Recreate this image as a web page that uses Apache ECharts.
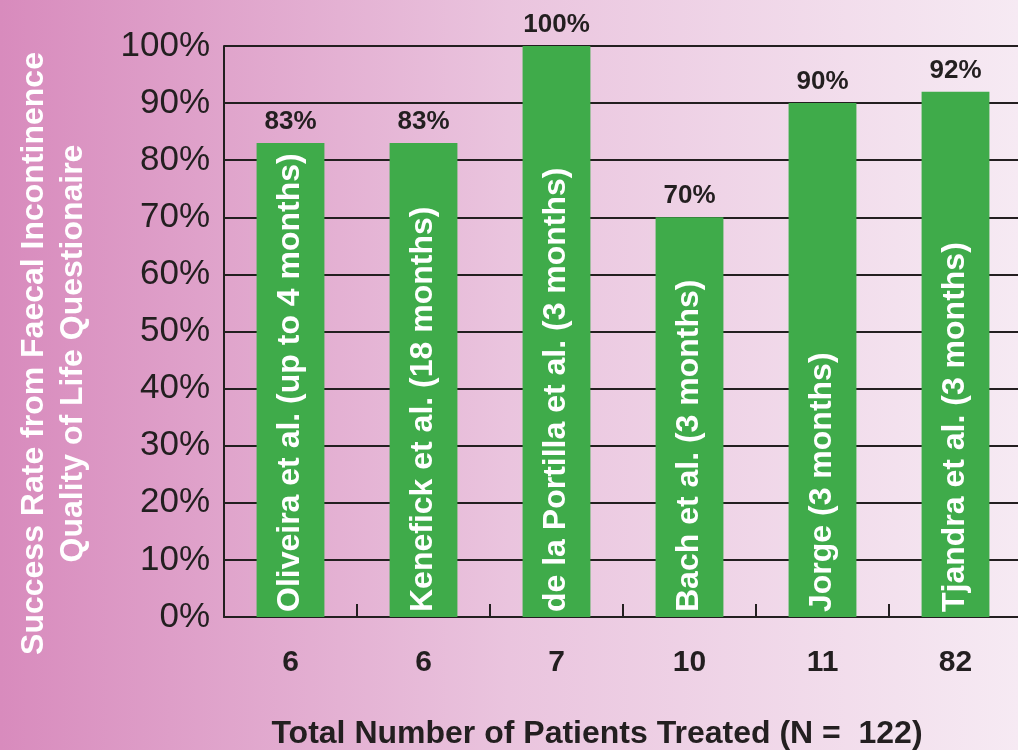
<!DOCTYPE html>
<html>
<head>
<meta charset="utf-8">
<script src="https://cdn.jsdelivr.net/npm/echarts@6/dist/echarts.min.js"></script>
<style>
  html, body { margin: 0; padding: 0; }
  #chart { width: 1018px; height: 750px; }
</style>
</head>
<body>
<div id="chart"></div>
<script>
const patientCounts = ['6', '6', '7', '10', '11', '82']
const studyNames = [
  'Oliveira et al. (up to 4 months)',
  'Kenefick et al. (18 months)',
  'de la Portilla et al. (3 months)',
  'Bach et al. (3 months)',
  'Jorge (3 months)',
  'Tjandra et al. (3 months)'
]
const successRates = [83, 83, 100, 70, 90, 92]
const yTicks = [0, 10, 20, 30, 40, 50, 60, 70, 80, 90, 100]

const font = '"Liberation Sans", Arial, Helvetica, sans-serif'
const ink = '#231f20'
const green = '#3fab4a'

const chart = echarts.init(document.getElementById('chart'))
chart.setOption({
  animation: false,
  backgroundColor: new echarts.graphic.LinearGradient(0, 0, 1, 0, [
    { offset: 0, color: '#d88bbd' },
    { offset: 0.5, color: '#eac4de' },
    { offset: 1, color: '#f6eaf3' }
  ]),
  grid: { left: 224, right: -4, top: 46, bottom: 133, containLabel: false, outerBoundsMode: 'none' },
  xAxis: {
    type: 'category',
    data: patientCounts,
    name: 'Total Number of Patients Treated (N =  122)',
    nameLocation: 'middle',
    nameGap: 101,
    nameTextStyle: { color: ink, fontFamily: font, fontWeight: 'bold', fontSize: 32, padding: [0, 52, 0, 0] },
    axisLine: { lineStyle: { color: ink, width: 2 } },
    axisTick: { show: true, inside: true, length: 13, lineStyle: { color: ink, width: 2 } },
    axisLabel: { color: ink, fontFamily: font, fontWeight: 'bold', fontSize: 30, margin: 31 }
  },
  yAxis: {
    type: 'value',
    min: yTicks[0],
    max: yTicks[yTicks.length - 1],
    interval: 10,
    name: 'Success Rate from Faecal Incontinence\nQuality of Life Questionaire',
    nameLocation: 'middle',
    nameGap: 131,
    nameRotate: 90,
    nameTextStyle: { color: '#ffffff', fontFamily: font, fontWeight: 'bold', fontSize: 32, lineHeight: 39, padding: [0, 44, 0, 0] },
    axisLine: { show: true, lineStyle: { color: ink, width: 2 } },
    axisTick: { show: false },
    splitLine: { lineStyle: { color: ink, width: 2 } },
    axisLabel: { color: ink, fontFamily: font, fontSize: 35, margin: 14, formatter: '{value}%' }
  },
  series: [
    {
      type: 'bar',
      data: successRates,
      barWidth: '51%',
      itemStyle: { color: green },
      label: {
        show: true,
        position: 'top',
        distance: 8,
        formatter: '{c}%',
        color: ink,
        fontFamily: font,
        fontWeight: 'bold',
        fontSize: 26
      },
      z: 2
    },
    {
      type: 'bar',
      data: successRates,
      barWidth: '51%',
      barGap: '-100%',
      itemStyle: { color: 'rgba(0,0,0,0)' },
      label: {
        show: true,
        position: 'insideBottom',
        rotate: 90,
        align: 'left',
        verticalAlign: 'middle',
        distance: 5,
        formatter: (p) => studyNames[p.dataIndex],
        color: '#ffffff',
        fontFamily: font,
        fontWeight: 'bold',
        fontSize: 32
      },
      z: 3
    }
  ]
})
</script>
</body>
</html>
